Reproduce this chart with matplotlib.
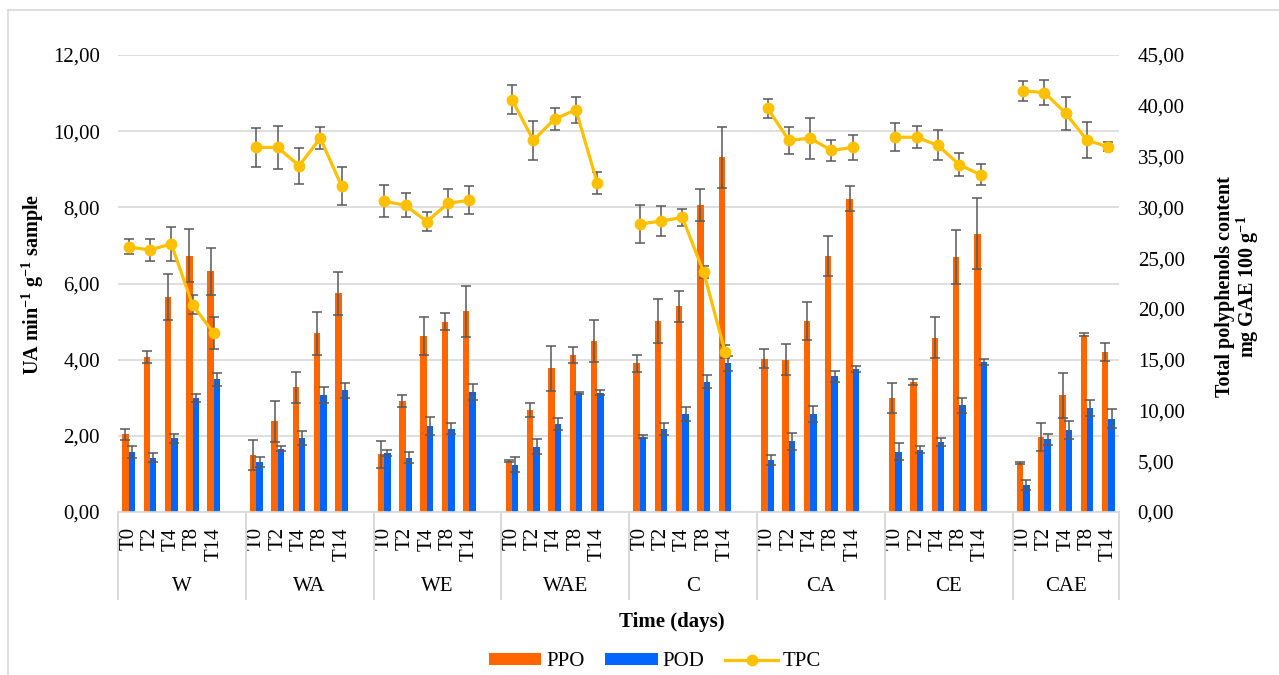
import matplotlib
matplotlib.use("Agg")
import matplotlib.pyplot as plt
import numpy as np
from matplotlib.lines import Line2D
from matplotlib.patches import Patch
from matplotlib.ticker import FuncFormatter
from matplotlib.transforms import blended_transform_factory

plt.rcParams['font.family'] = 'Liberation Serif'
plt.rcParams['mathtext.fontset'] = 'custom'
plt.rcParams['mathtext.rm'] = 'Liberation Serif'
plt.rcParams['mathtext.bf'] = 'Liberation Serif:bold'

# Samples and storage days
groups = ['W', 'WA', 'WE', 'WAE', 'C', 'CA', 'CE', 'CAE']
times = ['T0', 'T2', 'T4', 'T8', 'T14']

# PPO activity (UA min-1 g-1) and standard deviation
ppo = [[2.04, 4.07, 5.65, 6.73, 6.32],
       [1.49, 2.38, 3.27, 4.69, 5.74],
       [1.51, 2.92, 4.61, 5.00, 5.27],
       [1.33, 2.67, 3.77, 4.11, 4.49],
       [3.90, 5.01, 5.40, 8.06, 9.31],
       [4.03, 4.00, 5.01, 6.72, 8.23],
       [3.00, 3.42, 4.58, 6.70, 7.31],
       [1.29, 1.97, 3.06, 4.66, 4.20]]
ppo_sd = [[0.14, 0.15, 0.60, 0.70, 0.61],
          [0.39, 0.54, 0.41, 0.56, 0.57],
          [0.36, 0.15, 0.50, 0.23, 0.67],
          [0.03, 0.18, 0.59, 0.21, 0.56],
          [0.23, 0.58, 0.41, 0.42, 0.79],
          [0.26, 0.40, 0.50, 0.52, 0.32],
          [0.40, 0.08, 0.54, 0.70, 0.93],
          [0.03, 0.38, 0.60, 0.05, 0.23]]

# POD activity (UA min-1 g-1) and standard deviation
pod = [[1.58, 1.43, 1.93, 3.00, 3.48],
       [1.31, 1.66, 1.94, 3.06, 3.20],
       [1.55, 1.43, 2.26, 2.19, 3.15],
       [1.24, 1.71, 2.32, 3.13, 3.13],
       [1.97, 2.19, 2.57, 3.42, 3.90],
       [1.36, 1.86, 2.58, 3.56, 3.75],
       [1.58, 1.64, 1.84, 2.80, 3.94],
       [0.72, 1.91, 2.16, 2.74, 2.45]]
pod_sd = [[0.16, 0.12, 0.11, 0.10, 0.18],
          [0.14, 0.07, 0.19, 0.21, 0.20],
          [0.08, 0.15, 0.23, 0.14, 0.20],
          [0.20, 0.20, 0.16, 0.03, 0.07],
          [0.04, 0.16, 0.19, 0.17, 0.20],
          [0.13, 0.22, 0.21, 0.15, 0.08],
          [0.22, 0.10, 0.10, 0.19, 0.08],
          [0.13, 0.15, 0.24, 0.21, 0.25]]

# Total polyphenols content (mg GAE 100 g-1) and standard deviation
tpc = [[26.1, 25.8, 26.4, 20.4, 17.6],
       [35.9, 35.9, 34.1, 36.8, 32.1],
       [30.6, 30.2, 28.6, 30.4, 30.7],
       [40.6, 36.6, 38.7, 39.6, 32.4],
       [28.35, 28.65, 29.0, 23.6, 15.8],
       [39.75, 36.6, 36.8, 35.6, 35.9],
       [36.9, 36.9, 36.1, 34.2, 33.2],
       [41.46, 41.3, 39.26, 36.6, 35.96]]
tpc_sd = [[0.74, 1.07, 1.64, 0.95, 1.58],
          [1.9, 2.1, 1.76, 1.1, 1.87],
          [1.6, 1.2, 0.95, 1.37, 1.4],
          [1.4, 1.9, 1.1, 1.3, 1.05],
          [1.9, 1.5, 0.85, 0.6, 0.65],
          [0.92, 1.3, 2.0, 1.07, 1.2],
          [1.4, 1.1, 1.48, 1.15, 1.05],
          [1.0, 1.27, 1.6, 1.76, 0.45]]

PPO_COLOR = '#FF6600'
POD_COLOR = '#0066FF'
TPC_COLOR = '#FFC000'
ERR_COLOR = '#595959'
GRID_COLOR = '#D9D9D9'

W, H = 1279, 675
fig = plt.figure(figsize=(W / 100, H / 100), dpi=100)
ax = fig.add_axes([118 / W, 1 - 512 / H, (1119 - 118) / W, (512 - 55) / H])
ax2 = ax.twinx()

# one empty slot between sample groups
n_t = len(times)
step = n_t + 1
x_pos = np.array([g * step + t for g in range(len(groups)) for t in range(n_t)])
ppo_flat = np.array(ppo).ravel()
pod_flat = np.array(pod).ravel()

bw = 0.3
ax.bar(x_pos - bw / 2, ppo_flat, bw, color=PPO_COLOR, zorder=2)
ax.bar(x_pos + bw / 2, pod_flat, bw, color=POD_COLOR, zorder=2)
ax.errorbar(x_pos - bw / 2, ppo_flat, yerr=np.array(ppo_sd).ravel(), fmt='none',
            ecolor=ERR_COLOR, elinewidth=1.1, capsize=3.8, capthick=1.1, zorder=3)
ax.errorbar(x_pos + bw / 2, pod_flat, yerr=np.array(pod_sd).ravel(), fmt='none',
            ecolor=ERR_COLOR, elinewidth=1.1, capsize=3.8, capthick=1.1, zorder=3)

for g in range(len(groups)):
    xs = g * step + np.arange(n_t)
    ax2.errorbar(xs, tpc[g], yerr=tpc_sd[g], fmt='none', ecolor=ERR_COLOR,
                 elinewidth=1.1, capsize=3.6, capthick=1.1, zorder=3)
    ax2.plot(xs, tpc[g], color=TPC_COLOR, lw=2.3, marker='o', ms=7.5, zorder=4)

n_slots = len(groups) * step - 1
ax.set_xlim(-0.5, n_slots - 0.5)
ax.set_ylim(0, 12)
ax2.set_ylim(0, 45)
ax.set_yticks(np.arange(0, 12.01, 2))
ax2.set_yticks(np.arange(0, 45.01, 5))
comma = FuncFormatter(lambda v, p: f'{v:.2f}'.replace('.', ','))
ax.yaxis.set_major_formatter(comma)
ax2.yaxis.set_major_formatter(comma)

ax.set_xticks(x_pos)
ax.set_xticklabels(times * len(groups), rotation=90, va='top')
ax.tick_params(axis='x', length=0, pad=11, labelsize=15)
ax.tick_params(axis='y', length=0, pad=13, labelsize=15)
ax2.tick_params(axis='y', length=0, pad=13.5, labelsize=15)

ax.set_axisbelow(True)
ax.grid(axis='y', color=GRID_COLOR, lw=1.2)
for a in (ax, ax2):
    for s in a.spines.values():
        s.set_visible(False)
ax.spines['bottom'].set_visible(True)
ax.spines['bottom'].set_color(GRID_COLOR)
ax.spines['bottom'].set_linewidth(1.2)

# group labels and separators under the category axis
trans = blended_transform_factory(ax.transData, ax.transAxes)
bounds = [-0.5 + g * step for g in range(len(groups))] + [n_slots - 0.5]
for b in bounds:
    ax.plot([b, b], [0, -0.19], transform=trans, color=GRID_COLOR, lw=1.4,
            clip_on=False)
for g, name in enumerate(groups):
    mid = (bounds[g] + bounds[g + 1]) / 2
    ax.text(mid, -0.162, name, transform=trans, ha='center', va='center',
            fontsize=15)

fig.text(33 / W, 1 - 284 / H, r'UA min$^{\mathbf{-1}}$ g$^{\mathbf{-1}}$ sample',
         rotation=90, ha='center', va='center', fontsize=14.5, fontweight='bold')
fig.text(1238 / W, 1 - 287 / H,
         'Total polyphenols content\nmg GAE 100 g$^{\\mathbf{-1}}$',
         rotation=90, ha='center', va='center', multialignment='center',
         fontsize=14.5, fontweight='bold', linespacing=1.0)
fig.text(672 / W, 1 - 622 / H, 'Time (days)', ha='center', va='center',
         fontsize=15, fontweight='bold')

handles = [Patch(facecolor=PPO_COLOR, label='PPO'),
           Patch(facecolor=POD_COLOR, label='POD'),
           Line2D([], [], color=TPC_COLOR, lw=2.3, marker='o', ms=7.5, label='TPC')]
fig.legend(handles=handles, loc='center', bbox_to_anchor=(655 / W, 1 - 662 / H),
           ncol=3, frameon=False, fontsize=15, handlelength=2.5,
           handleheight=0.55, handletextpad=0.25, columnspacing=1.0)

# chart area border
fig.add_artist(Line2D([8 / W, 8 / W], [0, 1 - 10 / H], color=GRID_COLOR, lw=1.2))
fig.add_artist(Line2D([8 / W, 1], [1 - 10 / H, 1 - 10 / H], color=GRID_COLOR, lw=1.2))

fig.savefig('out.png', dpi=100)
